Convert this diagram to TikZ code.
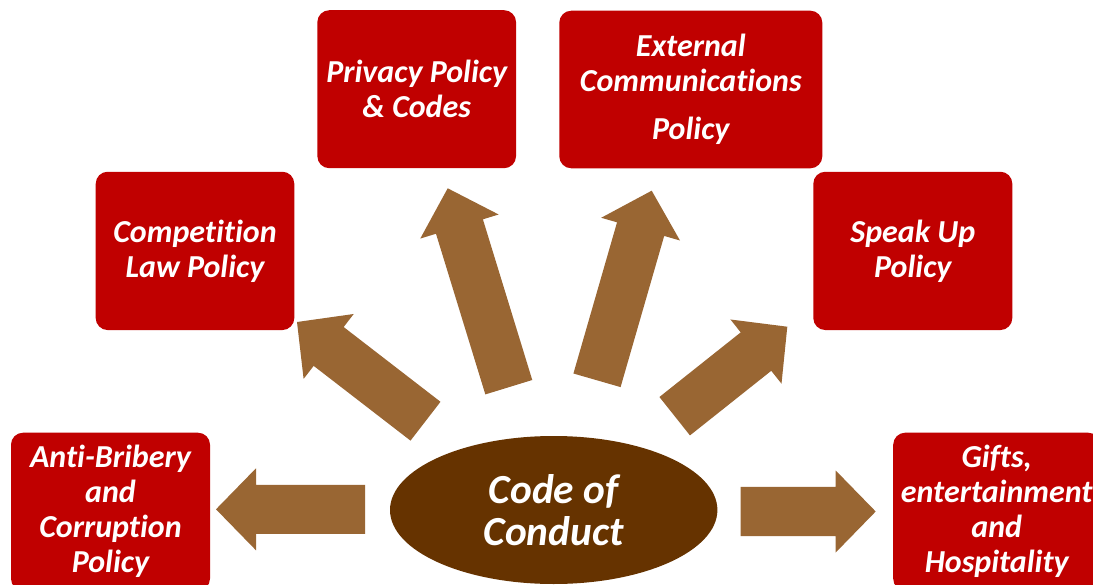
\documentclass[tikz,border=0pt]{standalone}
\usepackage{fontspec}
\setmainfont{Carlito}[RawFeature={-liga;-calt;-clig}]
\usetikzlibrary{calc,shapes.geometric}
\definecolor{boxred}{HTML}{C00000}
\definecolor{arrowbrown}{HTML}{996633}
\definecolor{ovalbrown}{HTML}{663300}
\tikzset{
  policy/.style={fill=boxred, draw=none, rounded corners=9pt, text=white,
    font=\fontsize{24}{26.25}\selectfont\bfseries\itshape, align=center,
    inner sep=0pt},
  arrowbody/.style={fill=arrowbrown, draw=none},
  core/.style={ellipse, fill=ovalbrown, draw=none, text=white,
    font=\fontsize{31}{31.3}\selectfont\bfseries\itshape, align=center, inner sep=0pt}
}
\newcommand\blockarrow[2]{%
  \coordinate (ab) at ($(#2)!30pt!(#1)$);
  \fill[arrowbody] ($(#1)!18.4pt!90:(#2)$) -- ($(ab)!18.4pt!90:(#2)$)
    -- ($(ab)!30.75pt!90:(#2)$) -- (#2) -- ($(ab)!30.75pt!-90:(#2)$)
    -- ($(ab)!18.4pt!-90:(#2)$) -- ($(#1)!18.4pt!-90:(#2)$) -- cycle;}
\begin{document}
\begin{tikzpicture}[x=0.75pt, y=-0.75pt]
\useasboundingbox (0,0) rectangle (1093,585);
\clip (0,0) rectangle (1093,585);
\fill[white] (0,0) rectangle (1093,585);
% boxes
\node[policy, minimum width=198.6*0.75pt, minimum height=158.3*0.75pt] (comp) at (195,250.9) {Competition\\Law Policy};
\node[policy, minimum width=198.7*0.75pt, minimum height=158*0.75pt] (priv) at (416.7,89.2) {Privacy Policy\\\& Codes};
\node[policy, minimum width=263*0.75pt, minimum height=157.6*0.75pt] (ext) at (690.8,89.5) {External\\Communications\\[10pt]Policy};
\node[policy, minimum width=199*0.75pt, minimum height=158.3*0.75pt] (speak) at (912.8,250.9) {Speak Up\\Policy};
\node[policy, minimum width=199*0.75pt, minimum height=158*0.75pt] (anti) at (110.5,511.7) {Anti-Bribery\\and\\Corruption\\Policy};
\node[policy, minimum width=207*0.75pt, minimum height=158*0.75pt] (gifts) at (996.7,511.7) {Gifts,\\entertainment\\and\\Hospitality};
% central ellipse
\node[core, minimum width=327.4*0.75pt, minimum height=148*0.75pt] (coc) at (553.7,510) {Code of\\Conduct};
% arrow end points
\coordinate (t1) at (425.5,421.2); \coordinate (h1) at (297,322);
\coordinate (t2) at (508.8,387.2); \coordinate (h2) at (447.7,188.3);
\coordinate (t3) at (597,380.3);   \coordinate (h3) at (651.7,190.7);
\coordinate (t4) at (674.7,416.2); \coordinate (h4) at (787.3,326.7);
\coordinate (t5) at (365,509.3);   \coordinate (h5) at (216,509.3);
\coordinate (t6) at (740.7,511.5); \coordinate (h6) at (875.7,511.5);
\blockarrow{t1}{h1}
\blockarrow{t2}{h2}
\blockarrow{t3}{h3}
\blockarrow{t4}{h4}
\blockarrow{t5}{h5}
\blockarrow{t6}{h6}
\end{tikzpicture}
\end{document}
